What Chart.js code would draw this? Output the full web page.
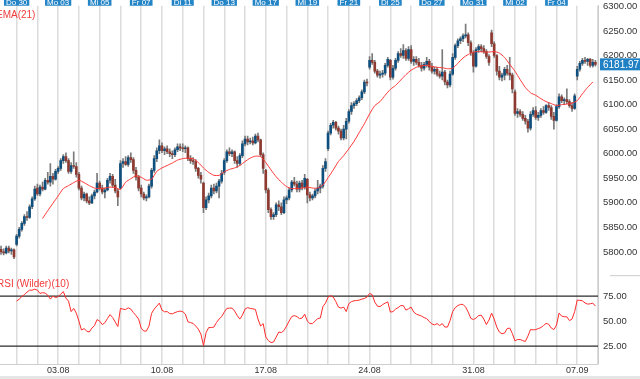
<!DOCTYPE html>
<html lang="de">
<head>
  <meta charset="UTF-8" />
  <title>Kursverlauf mit EMA(21) und RSI</title>
  <script src="https://cdn.jsdelivr.net/npm/chart.js"></script>
</head>
<body style="margin: 0; width: 640px; height: 379px; overflow: hidden; background: #fff; position: relative;">

  <canvas id="kurs" width="640" height="384" style="position: absolute; left: 0; top: -5px;"></canvas>
  <div style="position: absolute; left: 0; bottom: 0; width: 640px; height: 3px; background: #e6e6e6;"></div>

  <script>
    // Trading days: index 0 = Do 30.07, gridline at each day start
    const dayTickDays = [0, 2, 4, 6, 8, 10, 12, 14, 16, 18, 20, 22, 24, 26];
    const dayTickLabels = ['Do 30', 'Mo 03', 'Mi 05', 'Fr 07', 'Di 11', 'Do 13', 'Mo 17',
                           'Mi 19', 'Fr 21', 'Di 25', 'Do 27', 'Mo 31', 'Mi 02', 'Fr 04'];
    const weekTickDays = [2, 7, 12, 17, 22, 27];
    const weekTickLabels = ['03.08', '10.08', '17.08', '24.08', '31.08', '07.09'];

    const candlesPerDay = 8;
    const firstCandleX = -0.75;   // last 6 candles of Mi 29.07 are visible

    // OHLC, 6 candles of Mi 29 then 8 per day
    const opens = [
      5805, 5800, 5798, 5808, 5802, 5804,
      5815, 5832, 5846, 5858, 5872, 5870, 5892, 5908,
      5930, 5918, 5932, 5928, 5946, 5942, 5954, 5948,
      5964, 5970, 5986, 5994, 5986, 5964, 5976, 5974,
      5958, 5930, 5910, 5918, 5904, 5900, 5914, 5922,
      5940, 5930, 5922, 5926, 5946, 5954, 5936, 5924,
      5930, 5980, 5984, 5978, 5992, 5988, 5966, 5952,
      5930, 5918, 5910, 5912, 5934, 5966, 5990, 6006,
      6016, 6006, 6010, 6004, 6000, 5998, 6008, 6014,
      6012, 6010, 6012, 5990, 5986, 5984, 5970, 5956,
      5940, 5890, 5906, 5914, 5930, 5924, 5934, 5944,
      5962, 5986, 6004, 6000, 6004, 5986, 5980, 5996,
      6020, 6030, 6024, 6026, 6022, 6036, 6028, 5998,
      5966, 5926, 5886, 5872, 5876, 5896, 5892, 5880,
      5906, 5910, 5926, 5942, 5938, 5928, 5940, 5932,
      5948, 5916, 5910, 5914, 5924, 5930, 5934, 5970,
      6010, 6042, 6058, 6064, 6052, 6046, 6032, 6050,
      6066, 6086, 6098, 6102, 6108, 6114, 6126, 6146,
      6176, 6190, 6186, 6168, 6160, 6162, 6164, 6180,
      6190, 6156, 6174, 6190, 6204, 6200, 6210, 6194,
      6212, 6188, 6192, 6186, 6180, 6174, 6182, 6188,
      6176, 6168, 6172, 6162, 6158, 6166, 6146, 6140,
      6162, 6196, 6220, 6230, 6234, 6240, 6242, 6226,
      6206, 6178, 6212, 6218, 6214, 6208, 6198, 6246,
      6224, 6200, 6168, 6156, 6160, 6172, 6164, 6160,
      6126, 6082, 6086, 6080, 6072, 6066, 6052, 6080,
      6088, 6074, 6078, 6088, 6084, 6098, 6094, 6076,
      6068, 6096, 6116, 6108, 6110, 6106, 6098, 6092,
      6158, 6172, 6184, 6190, 6188, 6192, 6180, 6186
    ];
    const highs = [
      5812, 5806, 5812, 5812, 5808, 5806,
      5836, 5850, 5862, 5876, 5882, 5896, 5912, 5934,
      5938, 5936, 5942, 5950, 5962, 5980, 5960, 5968,
      5974, 5990, 5998, 6002, 5990, 5982, 6004, 5982,
      5962, 5934, 5922, 5920, 5912, 5918, 5926, 5960,
      5944, 5936, 5930, 5950, 5960, 5958, 5948, 5928,
      5986, 5990, 5994, 5996, 6002, 5992, 5972, 5956,
      5936, 5922, 5916, 5938, 5970, 5996, 6012, 6028,
      6022, 6014, 6016, 6010, 6006, 6012, 6020, 6020,
      6020, 6016, 6014, 5996, 5992, 5988, 5972, 5962,
      5942, 5912, 5920, 5936, 5938, 5940, 5948, 5966,
      5990, 6008, 6012, 6008, 6006, 5994, 6000, 6026,
      6036, 6036, 6032, 6034, 6040, 6042, 6030, 6002,
      5968, 5930, 5890, 5880, 5900, 5904, 5900, 5912,
      5914, 5930, 5946, 5952, 5944, 5944, 5946, 5958,
      5950, 5922, 5918, 5928, 5946, 5938, 5976, 5990,
      6046, 6062, 6068, 6066, 6056, 6050, 6058, 6072,
      6090, 6104, 6106, 6112, 6118, 6130, 6150, 6152,
      6198, 6204, 6190, 6172, 6168, 6170, 6184, 6196,
      6192, 6180, 6194, 6208, 6214, 6222, 6214, 6218,
      6220, 6198, 6198, 6194, 6186, 6186, 6196, 6192,
      6184, 6176, 6176, 6168, 6212, 6170, 6150, 6168,
      6204, 6224, 6234, 6238, 6244, 6264, 6246, 6230,
      6210, 6216, 6222, 6222, 6220, 6212, 6202, 6252,
      6228, 6202, 6178, 6164, 6176, 6180, 6196, 6164,
      6130, 6092, 6090, 6086, 6078, 6070, 6086, 6094,
      6096, 6084, 6092, 6096, 6100, 6104, 6098, 6084,
      6100, 6122, 6120, 6114, 6132, 6110, 6104, 6122,
      6178, 6188, 6194, 6196, 6194, 6194, 6192, 6190
    ];
    const lows = [
      5795, 5794, 5796, 5798, 5795, 5786,
      5812, 5828, 5842, 5854, 5864, 5868, 5888, 5905,
      5915, 5914, 5924, 5926, 5938, 5934, 5938, 5946,
      5960, 5966, 5980, 5982, 5960, 5960, 5970, 5952,
      5926, 5906, 5904, 5900, 5896, 5898, 5908, 5920,
      5926, 5918, 5910, 5924, 5940, 5932, 5920, 5894,
      5928, 5972, 5976, 5974, 5982, 5960, 5946, 5924,
      5912, 5906, 5904, 5910, 5930, 5962, 5984, 6000,
      6002, 5998, 6000, 5994, 5990, 5994, 6004, 6006,
      6004, 6002, 5986, 5980, 5978, 5964, 5950, 5940,
      5880, 5886, 5900, 5910, 5918, 5920, 5910, 5940,
      5958, 5982, 5996, 5994, 5980, 5972, 5976, 5992,
      6016, 6018, 6020, 6018, 6020, 6024, 5994, 5960,
      5920, 5880, 5866, 5866, 5872, 5884, 5876, 5878,
      5898, 5906, 5922, 5934, 5922, 5922, 5926, 5928,
      5900, 5904, 5906, 5910, 5918, 5920, 5930, 5964,
      6006, 6038, 6052, 6048, 6040, 6028, 6028, 6030,
      6062, 6080, 6092, 6098, 6104, 6110, 6122, 6138,
      6172, 6182, 6164, 6156, 6154, 6156, 6160, 6176,
      6150, 6152, 6170, 6186, 6196, 6194, 6190, 6190,
      6184, 6180, 6182, 6176, 6168, 6170, 6176, 6170,
      6164, 6162, 6158, 6154, 6150, 6140, 6134, 6136,
      6160, 6192, 6216, 6224, 6228, 6236, 6220, 6200,
      6166, 6176, 6206, 6208, 6204, 6194, 6180, 6218,
      6196, 6160, 6150, 6148, 6150, 6160, 6150, 6124,
      6078, 6074, 6076, 6068, 6060, 6044, 6048, 6076,
      6070, 6068, 6074, 6080, 6082, 6088, 6070, 6050,
      6066, 6092, 6104, 6100, 6102, 6094, 6086, 6090,
      6150, 6168, 6180, 6184, 6180, 6176, 6176, 6178
    ];
    const closes = [
      5800, 5798, 5808, 5802, 5804, 5790,
      5832, 5846, 5858, 5872, 5870, 5892, 5908, 5928,
      5918, 5932, 5928, 5946, 5942, 5954, 5948, 5964,
      5970, 5986, 5994, 5986, 5964, 5976, 5974, 5958,
      5930, 5910, 5918, 5904, 5900, 5914, 5922, 5940,
      5930, 5922, 5926, 5946, 5954, 5936, 5924, 5912,
      5980, 5984, 5978, 5992, 5988, 5966, 5952, 5930,
      5918, 5910, 5912, 5934, 5966, 5990, 6006, 6016,
      6006, 6010, 6004, 6000, 5998, 6008, 6014, 6012,
      6010, 6012, 5990, 5986, 5984, 5970, 5956, 5948,
      5890, 5906, 5914, 5930, 5924, 5934, 5944, 5960,
      5986, 6004, 6000, 6004, 5986, 5980, 5996, 6020,
      6030, 6024, 6026, 6022, 6036, 6028, 5998, 5970,
      5926, 5886, 5872, 5876, 5896, 5892, 5880, 5906,
      5910, 5926, 5942, 5938, 5928, 5940, 5932, 5950,
      5916, 5910, 5914, 5924, 5930, 5934, 5970, 5984,
      6042, 6058, 6064, 6052, 6046, 6032, 6050, 6066,
      6086, 6098, 6102, 6108, 6114, 6126, 6146, 6144,
      6190, 6186, 6168, 6160, 6162, 6164, 6180, 6192,
      6156, 6174, 6190, 6204, 6200, 6210, 6194, 6212,
      6188, 6192, 6186, 6180, 6174, 6182, 6188, 6176,
      6168, 6172, 6162, 6158, 6166, 6146, 6140, 6162,
      6196, 6220, 6230, 6234, 6240, 6242, 6226, 6206,
      6178, 6212, 6218, 6214, 6208, 6198, 6186, 6224,
      6200, 6168, 6156, 6160, 6172, 6164, 6160, 6132,
      6082, 6086, 6080, 6072, 6066, 6052, 6080, 6088,
      6074, 6078, 6088, 6084, 6098, 6094, 6076, 6068,
      6096, 6116, 6108, 6110, 6106, 6098, 6092, 6118,
      6172, 6184, 6190, 6188, 6192, 6180, 6186, 6181.97
    ];

    // EMA(21), read every second candle starting at candle 16
    const emaStartIndex = 16;
    const emaStep = 2;
    const emaValues = [
      5868, 5884, 5899, 5914, 5929, 5935, 5941, 5946, 5941, 5935,
      5930, 5929, 5930, 5932, 5931, 5927, 5942, 5949, 5955, 5952,
      5946, 5948, 5964, 5971, 5976, 5981, 5987, 5990, 5991, 5990,
      5982, 5971, 5962, 5956, 5956, 5963, 5968, 5971, 5976, 5984,
      5991, 5995, 5994, 5982, 5967, 5953, 5942, 5933, 5929, 5929,
      5930, 5932, 5930, 5930, 5936, 5951, 5967, 5984, 5996, 6010,
      6025, 6043, 6061, 6081, 6098, 6106, 6119, 6131, 6139, 6150,
      6161, 6170, 6176, 6179, 6180, 6178, 6176, 6175, 6173, 6174,
      6184, 6195, 6202, 6207, 6208, 6207, 6207, 6208, 6205, 6196,
      6182, 6168, 6151, 6135, 6124, 6119, 6112, 6106, 6102, 6098,
      6100, 6101, 6103, 6108, 6122, 6135, 6146
    ];

    // RSI (Wilder)(10), one value per candle starting at candle 6
    const rsiStartIndex = 6;
    const rsiValues = [
      70, 72, 74.5, 76.5, 79, 81, 81, 82, 81, 77.7,
      78.5, 78, 76, 72, 75, 73.5, 74.5, 77, 79.5, 73,
      70, 59.5, 62.7, 58, 50, 41, 42.5, 40, 39, 43,
      45.5, 51.5, 50, 46.5, 48.3, 52.5, 56.5, 53.5, 49, 44.5,
      62.7, 62, 61.5, 63.3, 62, 58.5, 55.5, 52, 43, 40,
      40, 45, 57.7, 62, 65, 68, 61, 59.3, 59.5, 57.5,
      57.3, 58.5, 59.5, 60, 59.5, 57, 49.3, 48.5, 47.7, 45,
      42, 37, 25.5, 38.5, 43.5, 43.5, 44, 48.5, 52, 54.5,
      59, 62.7, 63, 63, 60, 55.5, 52, 56, 62, 63.5,
      62.7, 62.3, 61.7, 52, 45, 47.5, 34, 30.5, 28.5, 29,
      34, 39, 38.5, 40.5, 45, 50, 54.5, 55.5, 54.5, 52.5,
      53, 57, 50, 47.5, 47.5, 50, 52.5, 53, 64.5, 68,
      74, 75.5, 74, 69.5, 64, 63, 64, 59.5, 67.5, 69.5,
      70.3, 70.6, 71, 72, 72.7, 74, 77.7, 76.5, 69, 65,
      64.5, 66.5, 68, 69.3, 59, 59.5, 62, 63.5, 65.5, 65.5,
      61, 62.3, 64, 59, 57, 56, 55, 53.5, 52.5, 49.5,
      47.2, 46.2, 47.5, 45.5, 47.5, 44, 44, 50.5, 59.5, 63.5,
      65.5, 66.7, 66.7, 64, 59, 52.7, 51.5, 53, 55.5, 56,
      52, 46.5, 51, 58, 52, 44, 39, 37.3, 38, 42.5,
      43, 37.5, 30.2, 31.5, 31.5, 30.5, 29.5, 35, 41.5, 41.2,
      41.5, 42.5, 43.5, 45.5, 47.7, 46.8, 43, 41.5, 46, 58,
      55, 54.3, 54.3, 50.5, 52, 59.5, 71, 70.8, 70.3, 68.2,
      67, 67.3, 68, 65
    ];
    const rsiLevels = [25, 75];

    const priceTicks = [5800, 5850, 5900, 5950, 6000, 6050, 6100, 6150, 6200, 6250, 6300];
    const rsiTicks = [25, 50, 75];

    const xMin = -0.8, xMax = 28;
    const upColor = '#0f4f7e', downColor = '#8e3a31', wickColor = '#7a7a7a';
    const lastClose = closes[closes.length - 1];

    const xOf = i => firstCandleX + i / candlesPerDay;
    const isUp = i => closes[i] >= opens[i];

    const bodies = closes.map((c, i) => ({ x: xOf(i), y: [Math.min(opens[i], c), Math.max(opens[i], c)] }));
    const wicks = closes.map((c, i) => ({ x: xOf(i), y: [lows[i], highs[i]] }));
    const emaPoints = emaValues.map((v, j) => ({ x: xOf(emaStartIndex + j * emaStep), y: v }));
    const rsiPoints = rsiValues.map((v, j) => ({ x: xOf(rsiStartIndex + j), y: v }));

    Chart.defaults.font.family = "'Liberation Sans', Arial, sans-serif";

    // legend texts, last price box, small separator on the axis
    const overlay = {
      id: 'overlay',
      afterDatasetsDraw(chart) {
        const { ctx, chartArea, scales } = chart;
        ctx.save();
        ctx.textBaseline = 'middle';
        ctx.font = "10px 'Liberation Sans', Arial, sans-serif";
        ctx.fillStyle = '#f23b3b';
        ctx.fillText('EMA(21)', -4, scales.y.top + 10);
        ctx.fillText('RSI (Wilder)(10)', -3, scales.y2.top + 9);

        const py = scales.y.getPixelForValue(lastClose);
        ctx.fillStyle = '#1f80c4';
        ctx.fillRect(chartArea.right + 2, py - 6, chart.width - chartArea.right - 2, 12);
        ctx.fillStyle = '#fff';
        ctx.font = "10px 'Liberation Sans', Arial, sans-serif";
        ctx.fillText(lastClose.toFixed(2), chartArea.right + 5, py + 0.5);

        ctx.strokeStyle = '#cccccc';
        ctx.lineWidth = 1;
        ctx.beginPath();
        ctx.moveTo(chartArea.right + 12, scales.y2.top + 0.5);
        ctx.lineTo(chart.width, scales.y2.top + 0.5);
        ctx.stroke();
        ctx.restore();
      }
    };

    new Chart(document.getElementById('kurs').getContext('2d'), {
      type: 'bar',
      data: {
        datasets: [
          {
            type: 'line', label: 'EMA(21)', data: emaPoints, yAxisID: 'y',
            borderColor: '#ff3535', borderWidth: 1, pointRadius: 0, tension: 0.2, order: 1
          },
          {
            type: 'line', label: 'RSI', data: rsiPoints, yAxisID: 'y2',
            borderColor: '#ff2b2b', borderWidth: 1, pointRadius: 0, order: 1
          },
          ...rsiLevels.map(level => ({
            type: 'line', label: 'RSI ' + level,
            data: [{ x: xMin, y: level }, { x: xMax, y: level }], yAxisID: 'y2',
            borderColor: '#2b2b2b', borderWidth: 1.3, pointRadius: 0, order: 4
          })),
          {
            label: 'Wicks', data: wicks, yAxisID: 'y', grouped: false,
            barThickness: 1, backgroundColor: wickColor, order: 3
          },
          {
            label: 'Bodies', data: bodies, yAxisID: 'y', grouped: false,
            barThickness: 2, minBarLength: 1,
            backgroundColor: ctx => isUp(ctx.dataIndex) ? upColor : downColor,
            order: 2
          }
        ]
      },
      options: {
        responsive: false,
        animation: false,
        layout: { padding: 0 },
        plugins: { legend: { display: false }, tooltip: { enabled: false } },
        scales: {
          x: {
            type: 'linear', position: 'bottom', min: xMin, max: xMax, offset: false,
            afterBuildTicks: s => { s.ticks = Array.from({ length: 29 }, (_, d) => ({ value: d })); },
            afterFit: s => { s.height = 15; },
            grid: { color: '#dcdcdc', lineWidth: 1.5, drawTicks: false, offset: false },
            border: { color: '#cfcfcf' },
            ticks: {
              autoSkip: false, maxRotation: 0, padding: 1, color: '#333', font: { size: 9 },
              callback: v => { const k = weekTickDays.indexOf(v); return k >= 0 ? weekTickLabels[k] : ''; }
            }
          },
          x2: {
            type: 'linear', position: 'top', min: xMin, max: xMax, offset: false,
            afterBuildTicks: s => { s.ticks = dayTickDays.map(d => ({ value: d })); },
            afterFit: s => { s.height = 10; },
            grid: { display: false, drawTicks: false, offset: false },
            border: { display: false },
            ticks: {
              autoSkip: false, maxRotation: 0, padding: -2, color: '#fff', font: { size: 8 },
              showLabelBackdrop: true, backdropColor: '#2384c6', backdropPadding: { x: 2, y: 0 },
              callback: v => { const k = dayTickDays.indexOf(v); return k >= 0 ? dayTickLabels[k] : ''; }
            }
          },
          y: {
            position: 'right', stack: 'panes', stackWeight: 270,
            min: 5752.6, max: 6301.4,
            afterBuildTicks: s => { s.ticks = priceTicks.map(v => ({ value: v })); },
            afterFit: s => { s.width = 42; },
            grid: { display: false, drawTicks: false },
            border: { color: '#cccccc' },
            ticks: { padding: 5, color: '#333', font: { size: 9.5 }, callback: v => v.toFixed(2) }
          },
          y2: {
            position: 'right', stack: 'panes', stackWeight: 89,
            min: 7, max: 96,
            afterBuildTicks: s => { s.ticks = rsiTicks.map(v => ({ value: v })); },
            afterFit: s => { s.width = 42; },
            grid: { display: false, drawTicks: false },
            border: { color: '#cccccc' },
            ticks: { padding: 5, color: '#333', font: { size: 9.5 }, callback: v => v.toFixed(2) }
          }
        }
      },
      plugins: [overlay]
    });
  </script>
</body>
</html>
